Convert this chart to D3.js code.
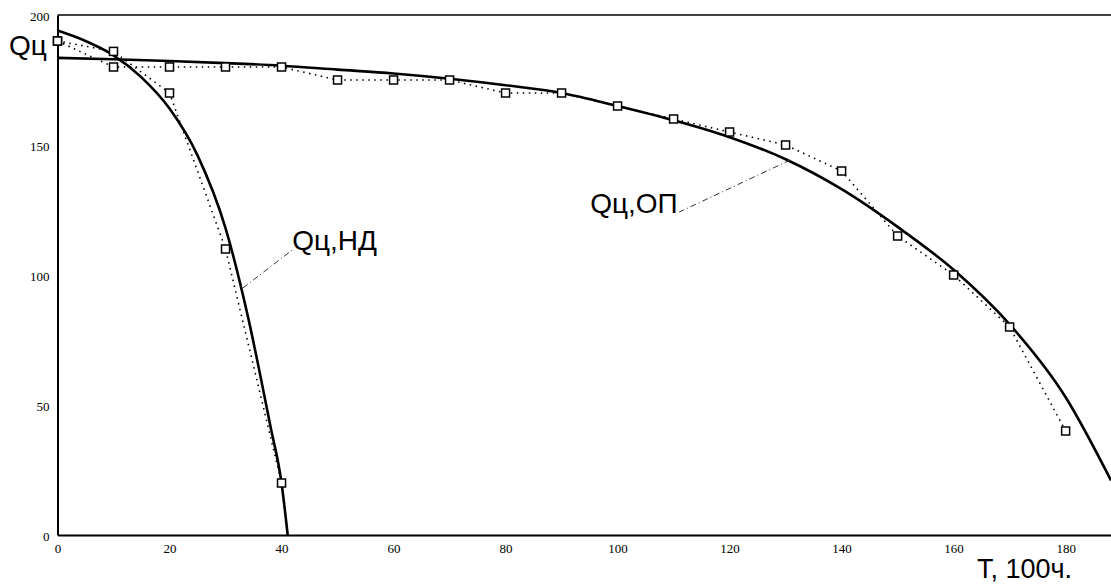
<!DOCTYPE html>
<html>
<head>
<meta charset="utf-8">
<script src="https://cdn.jsdelivr.net/npm/d3@7"></script>
<style>
  body { margin: 0; background: #fff; }
  .tick text { font-family: "Liberation Serif", "Times New Roman", serif; font-size: 13px; fill: #000; }
  .lbl { font-family: "Liberation Sans", Arial, sans-serif; font-size: 28px; fill: #000; }
</style>
</head>
<body>
<svg></svg>
<script>
/*
    Data
*/
// measured points (squares), T in 100 h
var ndT = [0, 10, 20, 30, 40]
var ndQ = [190, 186, 170, 110, 20]

var opT = [0, 10, 20, 30, 40, 50, 60, 70, 80, 90, 100, 110, 120, 130, 140, 150, 160, 170, 180]
var opQ = [190, 180, 180, 180, 180, 175, 175, 175, 170, 170, 165, 160, 155, 150, 140, 115, 100, 80, 40]

// fitted curves
var ndFitT = [0, 5, 10, 15, 20, 25, 30, 34, 38, 40, 41.1]
var ndFitQ = [194, 190, 184.5, 176, 164, 146, 118, 84, 42, 20, 0]

var opFitT = [0, 10, 20, 30, 40, 50, 60, 70, 80, 90, 100, 110, 120, 130, 140, 150, 160, 170, 180, 188.1]
var opFitQ = [183.5, 183, 182.3, 181.5, 180.5, 179, 177.5, 175.5, 173, 170, 165, 159.5, 153, 144.5, 133, 118.5, 102, 81, 53, 21]

var xTicks = [0, 20, 40, 60, 80, 100, 120, 140, 160, 180]
var yTicks = [0, 50, 100, 150, 200]

// callout labels: text, point on curve, text anchor (data units)
var calloutText = ["Qц,НД", "Qц,ОП"]
var calloutFrom = [[33.1, 95], [130.8, 144.2]]
var calloutTo = [[41.9, 109.6], [111.0, 124.2]]
var calloutAt = [[41.9, 109.6], [95.1, 123.8]]

/*
    Layout
*/
var margin = { top: 15, right: 0, bottom: 50, left: 57.5 }
var width = 1111 - margin.left - margin.right
var height = 585 - margin.top - margin.bottom

var body = d3.select("svg")
            .attr("width", 1111)
            .attr("height", 585)

var svg = body.append("g")
    .attr("transform", "translate(" + margin.left + "," + margin.top + ")")

//Scales
var xScale = d3.scaleLinear().domain([0, 188.1]).range([0, width])
var yScale = d3.scaleLinear().domain([0, 200]).range([height, 0])

function zip(a, b) {
    return a.map(function(v, i) { return [v, b[i]] })
}

var line = d3.line()
    .x(function(d) { return xScale(d[0]) })
    .y(function(d) { return yScale(d[1]) })

var smooth = d3.line()
    .curve(d3.curveMonotoneX)
    .x(function(d) { return xScale(d[0]) })
    .y(function(d) { return yScale(d[1]) })

//Axes
var yAxis = d3.axisLeft(yScale).tickValues(yTicks).tickSize(0).tickPadding(8)
var xAxis = d3.axisBottom(xScale).tickValues(xTicks).tickSize(0).tickPadding(9)

svg.append("g").call(yAxis)
    .call(function(g) { g.select(".domain").attr("stroke", "#000").attr("stroke-width", 2) })
svg.selectAll(".tick text").attr("dy", "0.45em")

svg.append("g")
    .attr("transform", "translate(0," + height + ")")
    .call(xAxis)
    .call(function(g) { g.select(".domain").attr("stroke", "#000").attr("stroke-width", 2) })

// top border
svg.append("line")
    .attr("x1", xScale(0)).attr("x2", width)
    .attr("y1", yScale(200)).attr("y2", yScale(200))
    .attr("stroke", "#000").attr("stroke-width", 1.6)

//Dotted polylines through the measured points
svg.append("path").datum(zip(ndT, ndQ))
    .attr("d", line).attr("fill", "none")
    .attr("stroke", "#000").attr("stroke-width", 1.6)
    .attr("stroke-dasharray", "1.5,4.5")
svg.append("path").datum(zip(opT, opQ))
    .attr("d", line).attr("fill", "none")
    .attr("stroke", "#000").attr("stroke-width", 1.6)
    .attr("stroke-dasharray", "1.5,4.5")

//Fitted curves
svg.append("path").datum(zip(ndFitT, ndFitQ))
    .attr("d", smooth).attr("fill", "none")
    .attr("stroke", "#000").attr("stroke-width", 2.6)
svg.append("path").datum(zip(opFitT, opFitQ))
    .attr("d", smooth).attr("fill", "none")
    .attr("stroke", "#000").attr("stroke-width", 2.6)

//Squares
svg.selectAll(".pt")
    .data(zip(ndT, ndQ).concat(zip(opT, opQ)))
    .enter().append("rect")
    .attr("class", "pt")
    .attr("x", function(d) { return xScale(d[0]) - 4 })
    .attr("y", function(d) { return yScale(d[1]) - 4 })
    .attr("width", 8).attr("height", 8)
    .attr("fill", "#fff").attr("stroke", "#000").attr("stroke-width", 1.5)

//Callouts
calloutText.forEach(function(t, i) {
    svg.append("line")
        .attr("x1", xScale(calloutFrom[i][0])).attr("y1", yScale(calloutFrom[i][1]))
        .attr("x2", xScale(calloutTo[i][0])).attr("y2", yScale(calloutTo[i][1]))
        .attr("stroke", "#333").attr("stroke-width", 1)
        .attr("stroke-dasharray", "6,3,1,3")
    svg.append("text")
        .attr("class", "lbl")
        .attr("x", xScale(calloutAt[i][0])).attr("y", yScale(calloutAt[i][1]))
        .text(t)
})

//Axis names
body.append("text").attr("class", "lbl")
    .attr("x", 9).attr("y", 55)
    .text("Qц")
body.append("text").attr("class", "lbl")
    .attr("x", 977).attr("y", 578)
    .style("font-size", "27px")
    .text("T, 100ч.")
</script>
</body>
</html>
